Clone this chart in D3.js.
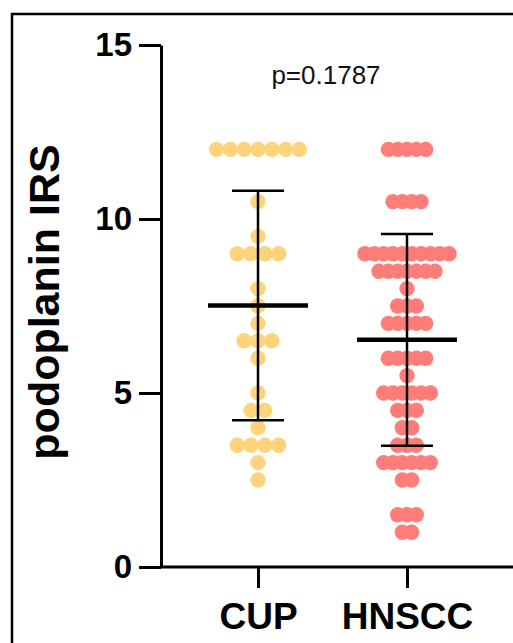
<!DOCTYPE html>
<html>
<head>
<meta charset="utf-8">
<script src="https://cdn.jsdelivr.net/npm/d3@7"></script>
<style>
  html, body { margin: 0; padding: 0; background: #fff; }
  svg { display: block; }
</style>
</head>
<body>
<script>
// ---- data ----
const categories = ["CUP", "HNSCC"];
const cupValues = [12,12,12,12,12,12,12, 10.5, 9.5, 9,9,9,9, 8, 7.5, 7,
  6.5,6.5,6.5, 6, 5, 4.5,4.5, 4, 3.5,3.5,3.5,3.5, 3, 2.5];
const hnsccValues = [12,12,12,12,12, 10.5,10.5,10.5,10.5,
  9,9,9,9,9,9,9,9,9,9, 8.5,8.5,8.5,8.5,8.5,8.5,8.5, 8, 7.5,7.5,7.5,
  7,7,7,7,7, 6,6,6,6,6, 5.5, 5,5,5,5,5,5, 4.5,4.5,4.5, 4,4, 3.5,3.5,3.5,
  3,3,3,3,3,3, 2.5,2.5, 1.5,1.5,1.5, 1,1];
const yTicks = [0, 5, 10, 15];
const pLabel = "p=0.1787";
const yTitle = "podoplanin IRS";

const W = 513, H = 643;
const colors = { CUP: "#FDD47C", HNSCC: "#FF7D78" };
const spacing = { CUP: 13.8, HNSCC: 9.35 };
const R = 7.7;
const FONT = "'Liberation Sans', Arial, sans-serif";

const svg = d3.select("body").append("svg").attr("width", W).attr("height", H);

// border
svg.append("rect").attr("x", 12).attr("y", 14).attr("width", 540).attr("height", 660)
  .attr("fill", "none").attr("stroke", "#000").attr("stroke-width", 2.5);

const y = d3.scaleLinear().domain([0, 15]).range([567, 45]);
const x = d3.scalePoint().domain(categories).range([258, 407]);

const groups = [
  { cat: "CUP", values: cupValues },
  { cat: "HNSCC", values: hnsccValues }
];

// dots (beeswarm rows per value)
groups.forEach(g => {
  const rows = d3.groups(g.values, v => v);
  const pts = [];
  rows.forEach(([v, arr]) => {
    const n = arr.length;
    arr.forEach((_, i) => {
      pts.push({ v, off: (i - (n - 1) / 2) * spacing[g.cat] });
    });
  });
  svg.append("g").selectAll("circle").data(pts).join("circle")
    .attr("cx", d => x(g.cat) + d.off)
    .attr("cy", d => y(d.v))
    .attr("r", R)
    .attr("fill", colors[g.cat]);
});

// mean +/- SD
groups.forEach(g => {
  const m = d3.mean(g.values), sd = d3.deviation(g.values);
  const cx = x(g.cat);
  const eg = svg.append("g").attr("stroke", "#000");
  eg.append("line").attr("x1", cx).attr("x2", cx).attr("y1", y(m + sd)).attr("y2", y(m - sd)).attr("stroke-width", 2.5);
  [m + sd, m - sd].forEach(v => {
    eg.append("line").attr("x1", cx - 26).attr("x2", cx + 26).attr("y1", y(v)).attr("y2", y(v)).attr("stroke-width", 2.5);
  });
  eg.append("line").attr("x1", cx - 50).attr("x2", cx + 50).attr("y1", y(m)).attr("y2", y(m)).attr("stroke-width", 4.5);
});

// y axis
const yAxis = svg.append("g").attr("transform", "translate(161,0)")
  .call(d3.axisLeft(y).tickValues(yTicks).tickSize(22).tickSizeOuter(0).tickPadding(7));
yAxis.selectAll("path, line").attr("stroke", "#000").attr("stroke-width", 3);
yAxis.selectAll("text").attr("fill", "#000")
  .style("font-family", FONT)
  .style("font-weight", "bold").style("font-size", "33px");

// x axis
svg.append("line").attr("x1", 161).attr("x2", W + 10).attr("y1", y(0)).attr("y2", y(0))
  .attr("stroke", "#000").attr("stroke-width", 3);
const xAxis = svg.append("g").attr("transform", `translate(0,${y(0)})`)
  .call(d3.axisBottom(x).tickSize(21).tickSizeOuter(0));
xAxis.select(".domain").remove();
xAxis.selectAll("line").attr("stroke", "#000").attr("stroke-width", 3);
xAxis.selectAll("text").attr("fill", "#000").attr("y", 62).attr("dy", 0)
  .style("font-family", FONT)
  .style("font-weight", "bold").style("font-size", "37px");

// y title
svg.append("text").attr("transform", "translate(59,302) rotate(-90)")
  .attr("text-anchor", "middle")
  .style("font-family", FONT)
  .style("font-weight", "bold").style("font-size", "43px")
  .text(yTitle);

// p value
svg.append("text").attr("x", 326).attr("y", 84).attr("text-anchor", "middle")
  .style("font-family", FONT)
  .style("font-size", "26px").attr("fill", "#111")
  .text(pLabel);
</script>
</body>
</html>
